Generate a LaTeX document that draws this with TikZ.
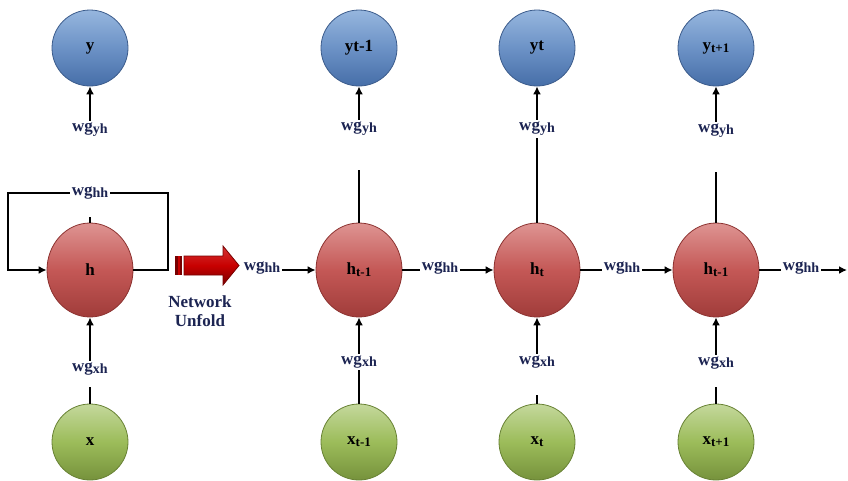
\documentclass[tikz,border=0pt]{standalone}
\usepackage{fontspec}
\setmainfont{Liberation Serif}
\usetikzlibrary{arrows.meta,shapes.geometric}
\definecolor{navy}{RGB}{28,36,82}
\definecolor{bluetop}{RGB}{150,182,222}
\definecolor{bluemid}{RGB}{108,146,198}
\definecolor{bluebot}{RGB}{70,110,168}
\definecolor{blueedge}{RGB}{60,92,140}
\definecolor{redtop}{RGB}{222,148,146}
\definecolor{redmid}{RGB}{196,88,86}
\definecolor{redbot}{RGB}{160,60,58}
\definecolor{rededge}{RGB}{140,50,48}
\definecolor{greentop}{RGB}{196,216,156}
\definecolor{greenmid}{RGB}{156,188,90}
\definecolor{greenbot}{RGB}{118,146,60}
\definecolor{greenedge}{RGB}{104,130,52}
\definecolor{arrred}{RGB}{200,0,0}
\definecolor{arrdark}{RGB}{120,0,0}
\newcommand{\wgl}[1]{{\fontsize{17}{17}\selectfont\bfseries wg\raisebox{-2pt}{\fontsize{14}{14}\selectfont\bfseries #1}}}
\newcommand{\nsub}[2]{#1\raisebox{-2pt}{\fontsize{13}{13}\selectfont\bfseries #2}}
\begin{document}
\begin{tikzpicture}[x=1pt,y=-1pt,
  ycirc/.style={circle, minimum size=76pt, inner sep=0pt, draw=blueedge, line width=0.8pt,
    top color=bluetop, bottom color=bluebot, middle color=bluemid,
    font=\fontsize{17}{17}\selectfont\bfseries},
  hcirc/.style={ellipse, minimum width=86pt, minimum height=94pt, inner sep=0pt, draw=rededge, line width=0.8pt,
    top color=redtop, bottom color=redbot, middle color=redmid,
    font=\fontsize{17}{17}\selectfont\bfseries},
  xcirc/.style={circle, minimum size=76pt, inner sep=0pt, draw=greenedge, line width=0.8pt,
    top color=greentop, bottom color=greenbot, middle color=greenmid,
    font=\fontsize{17}{17}\selectfont\bfseries},
  wlab/.style={inner sep=2pt, text=navy},
  conn/.style={line width=1.6pt, black},
  arr/.style={conn, -{Latex[length=8pt,width=8pt]}}
]
\useasboundingbox (0,0) rectangle (848,480);
\fill[white] (0,0) rectangle (848,480);

% top outputs
\node[ycirc] (y1) at (90,48) {y};
\node[ycirc] (y2) at (359,48) {yt-1};
\node[ycirc] (y3) at (537,48) {yt};
\node[ycirc] (y4) at (716,48) {\nsub{y}{t+1}};

% hidden
\node[hcirc] (h1) at (90,270) {h};
\node[hcirc] (h2) at (359,270) {\nsub{h}{t-1}};
\node[hcirc] (h3) at (537,270) {\nsub{h}{t}};
\node[hcirc] (h4) at (716,270) {\nsub{h}{t-1}};

% inputs
\node[xcirc] (x1) at (90,442) {x};
\node[xcirc] (x2) at (359,442) {\nsub{x}{t-1}};
\node[xcirc] (x3) at (537,442) {\nsub{x}{t}};
\node[xcirc] (x4) at (716,442) {\nsub{x}{t+1}};

% wg_yh labels
\node[wlab] (lyh1) at (90,130) {\wgl{yh}};
\node[wlab] (lyh2) at (359,129) {\wgl{yh}};
\node[wlab] (lyh3) at (537,129) {\wgl{yh}};
\node[wlab] (lyh4) at (716,131) {\wgl{yh}};

% wg_xh labels
\node[wlab] (lxh1) at (90,369) {\wgl{xh}};
\node[wlab] (lxh2) at (359,362) {\wgl{xh}};
\node[wlab] (lxh3) at (537,362) {\wgl{xh}};
\node[wlab] (lxh4) at (716,363) {\wgl{xh}};

% wg_hh labels
\node[wlab] (lhh0) at (90,193) {\wgl{hh}};
\node[wlab] (lhh1) at (262,268) {\wgl{hh}};
\node[wlab] (lhh2) at (440,268) {\wgl{hh}};
\node[wlab] (lhh3) at (622,268) {\wgl{hh}};
\node[wlab] (lhh4) at (801,268) {\wgl{hh}};

% top arrows
\foreach \i in {1,2,3,4} {\draw[arr] (lyh\i.north) -- (y\i.south);}
\coordinate (t2) at (359,170);
\coordinate (t4) at (716,172);
\draw[conn] (h2.north) -- (t2);
\draw[conn] (h3.north) -- (lyh3.south);
\draw[conn] (h4.north) -- (t4);
\coordinate (t1) at (90,217);
\draw[conn] (h1.north) -- (t1);

% bottom arrows
\foreach \i in {1,2,3,4} {\draw[arr] (lxh\i.north) -- (h\i.south);}
\coordinate (b1) at (90,387);
\coordinate (b3) at (537,395);
\coordinate (b4) at (716,387);
\draw[conn] (x1.north) -- (b1);
\draw[conn] (x2.north) -- (lxh2.south);
\draw[conn] (x3.north) -- (b3);
\draw[conn] (x4.north) -- (b4);

% recurrent loop
\coordinate (lr1) at (168,270);
\coordinate (lr2) at (168,193);
\coordinate (ll1) at (8,193);
\coordinate (ll2) at (8,270);
\draw[conn] (h1.east) -- (lr1) -- (lr2) -- (lhh0.east);
\draw[arr] (lhh0.west) -- (ll1) -- (ll2) -- (h1.west);

% horizontal chain
\coordinate (hend) at (847,270);
\draw[arr] (lhh1.east |- h2.west) -- (h2.west);
\draw[conn] (h2.east) -- (lhh2.west |- h2.east);
\draw[arr] (lhh2.east |- h3.west) -- (h3.west);
\draw[conn] (h3.east) -- (lhh3.west |- h3.east);
\draw[arr] (lhh3.east |- h4.west) -- (h4.west);
\draw[conn] (h4.east) -- (lhh4.west |- h4.east);
\draw[arr] (lhh4.east |- hend) -- (hend);

% unfold arrow
\fill[arrdark] (175,256) rectangle (177.5,275);
\fill[arrred] (177.5,256) rectangle (179.5,275);
\fill[arrdark] (179.5,256) rectangle (182,275);
\draw[arrdark, line width=0.8pt, top color=arrred!80!white, bottom color=arrdark, middle color=arrred]
  (184,256) -- (223,256) -- (223,246) -- (239,265.5) -- (223,285) -- (223,275) -- (184,275) -- cycle;
\node[text=navy, font=\fontsize{17}{19}\selectfont\bfseries, align=center] (unf) at (200,311) {Network\\Unfold};
\end{tikzpicture}
\end{document}
